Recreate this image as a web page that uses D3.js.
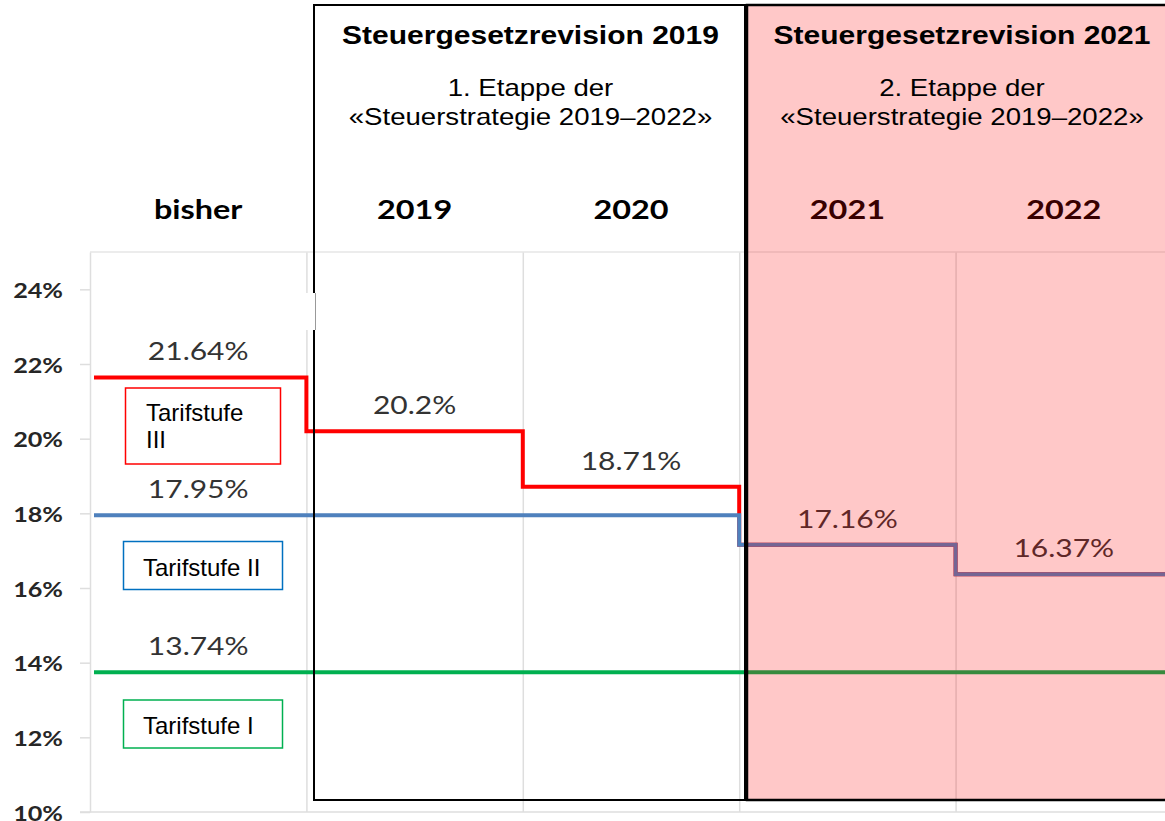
<!DOCTYPE html>
<html>
<head>
<meta charset="utf-8">
<script src="https://cdn.jsdelivr.net/npm/d3@7"></script>
<style>
  body { margin: 0; background: #fff; }
</style>
</head>
<body>
<div id="chart"></div>
<script>
const categories = ["bisher", "2019", "2020", "2021", "2022"];
const stufe1 = [13.74, 13.74, 13.74, 13.74, 13.74];
const stufe2 = [17.95, 17.95, 17.95, 17.16, 16.37];
const stufe3 = [21.64, 20.2, 18.71, 17.16, 16.37];
// indices of the values that get a label
const labels1 = [0];
const labels2 = [0, 3, 4];
const labels3 = [0, 1, 2];
const yTicks = [10, 12, 14, 16, 18, 20, 22, 24];
const seriesNames = ["Tarifstufe I", "Tarifstufe II", "Tarifstufe III"];
const revisions = ["Steuergesetzrevision 2019", "Steuergesetzrevision 2021"];
const etappen = ["1. Etappe der", "2. Etappe der"];
const strategie = "«Steuerstrategie 2019–2022»";

const width = 1165, height = 821;
const SX = 1.2; // the source picture is stretched sideways
const calibri = "Lato, 'Open Sans', sans-serif";
const arial = "'Liberation Sans', Arial, sans-serif";

const svg = d3.select("#chart").append("svg")
    .attr("width", width)
    .attr("height", height);

const x = d3.scaleBand().domain(categories).range([90, 1172]).padding(0);
const y = d3.scaleLinear().domain([10, 25]).range([812, 252]);
const bw = x.bandwidth();

// grid
const grid = svg.append("g").attr("id", "grid");
grid.selectAll("line.v").data(categories.slice(1))
    .join("line")
    .attr("class", "v")
    .attr("x1", d => x(d) + 0.5).attr("x2", d => x(d) + 0.5)
    .attr("y1", y(25)).attr("y2", y(10))
    .attr("stroke", "#dedede").attr("stroke-width", 1.5);
grid.append("line")
    .attr("x1", 90).attr("x2", 1172)
    .attr("y1", y(25)).attr("y2", y(25))
    .attr("stroke", "#e6e6e6").attr("stroke-width", 1.5);
grid.append("line")
    .attr("x1", 80).attr("x2", 1172)
    .attr("y1", y(10)).attr("y2", y(10))
    .attr("stroke", "#dedede").attr("stroke-width", 1.5);

// y axis
const yAxis = d3.axisLeft(y).tickValues(yTicks).tickSize(10).tickSizeOuter(0)
    .tickFormat(d => d + "%");
const yAxisG = svg.append("g")
    .attr("class", "y axis")
    .attr("transform", "translate(90,0)")
    .call(yAxis);
yAxisG.select(".domain").attr("stroke", "#dedede").attr("stroke-width", 1.5);
yAxisG.selectAll(".tick line").attr("stroke", "#dedede").attr("stroke-width", 1.5);
yAxisG.selectAll(".tick text")
    .attr("x", -27 / SX)
    .attr("dy", null)
    .attr("y", 8)
    .attr("transform", `scale(${SX},1)`)
    .attr("font-family", calibri)
    .attr("font-weight", "bold")
    .attr("font-size", 21)
    .attr("fill", "#262626");

// step lines
const steps = vals => {
    const pts = [];
    vals.forEach((v, i) => {
        pts.push([x(categories[i]) + (i === 0 ? 4 : 0), y(v)]);
        pts.push([x(categories[i]) + bw, y(v)]);
    });
    return pts;
};
const line = d3.line();
const series = [
    { name: seriesNames[0], vals: stufe1, labels: labels1, color: "#00b050", box: "#00b050" },
    { name: seriesNames[2], vals: stufe3, labels: labels3, color: "#ff0000", box: "#ff0000" },
    { name: seriesNames[1], vals: stufe2, labels: labels2, color: "#4f81bd", box: "#0070c0" }
];
const chartArea = svg.append("g").attr("id", "lines");
chartArea.selectAll("path.step").data(series)
    .join("path")
    .attr("class", "step")
    .attr("d", d => line(steps(d.vals)))
    .attr("fill", "none")
    .attr("stroke", d => d.color)
    .attr("stroke-width", 4)
    .attr("stroke-linejoin", "miter");

// value labels
const valueLabels = series.flatMap(s => s.labels.map(i => ({ cat: categories[i], v: s.vals[i] })));
chartArea.selectAll("text.label").data(valueLabels)
    .join("text")
    .attr("class", "label")
    .attr("transform", d => `translate(${x(d.cat) + bw / 2},${y(d.v) - 17}) scale(${SX},1)`)
    .attr("text-anchor", "middle")
    .attr("font-family", calibri)
    .attr("font-size", 25)
    .attr("fill", "#333")
    .text(d => d.v + "%");

// legend boxes
const legend = svg.append("g").attr("id", "legend");
const legendBoxes = [
    { s: series[1], x: 125.5, y: 388, w: 155, h: 76, lines: ["Tarifstufe", "III"], tx: 146 },
    { s: series[2], x: 123.5, y: 541.5, w: 159, h: 48, lines: ["Tarifstufe II"], tx: 143 },
    { s: series[0], x: 123.5, y: 700, w: 159, h: 48, lines: ["Tarifstufe I"], tx: 143 }
];
legendBoxes.forEach(b => {
    legend.append("rect")
        .attr("x", b.x).attr("y", b.y).attr("width", b.w).attr("height", b.h)
        .attr("fill", "none").attr("stroke", b.s.box).attr("stroke-width", 1.5);
    const first = b.lines.length > 1 ? b.y + 33 : b.y + 34;
    b.lines.forEach((t, i) => {
        legend.append("text")
            .attr("x", b.tx).attr("y", first + i * 27)
            .attr("font-family", arial).attr("font-size", 24)
            .attr("fill", "#000")
            .text(t);
    });
});

// category labels
svg.append("g").selectAll("text").data(categories)
    .join("text")
    .attr("transform", d => `translate(${x(d) + bw / 2},219) scale(${SX},1)`)
    .attr("text-anchor", "middle")
    .attr("font-family", calibri)
    .attr("font-weight", "bold")
    .attr("font-size", 27)
    .attr("fill", "#000")
    .text(d => d);

// revision boxes
svg.append("rect")
    .attr("x", 314).attr("y", 5).attr("width", 431).attr("height", 795)
    .attr("fill", "none").attr("stroke", "#000").attr("stroke-width", 2);
// patch over the frame, as in the source
svg.append("rect")
    .attr("x", 302).attr("y", 293).attr("width", 14).attr("height", 37)
    .attr("fill", "#fff");
svg.append("line")
    .attr("x1", 315.5).attr("x2", 315.5).attr("y1", 293).attr("y2", 330)
    .attr("stroke", "#999").attr("stroke-width", 1);
svg.append("rect")
    .attr("x", 747).attr("y", 5).attr("width", 440).attr("height", 795)
    .attr("fill", "#ff0000").attr("fill-opacity", 0.215)
    .attr("stroke", "#000").attr("stroke-width", 2.5);

// headers
const centers = [530.5, 962];
const header = svg.append("g").attr("id", "header");
revisions.forEach((t, i) => {
    header.append("text")
        .attr("transform", `translate(${centers[i]},44) scale(${SX},1)`)
        .attr("text-anchor", "middle")
        .attr("font-family", arial).attr("font-weight", "bold").attr("font-size", 25)
        .attr("fill", "#000")
        .text(t);
    header.append("text")
        .attr("transform", `translate(${centers[i]},96) scale(${SX},1)`)
        .attr("text-anchor", "middle")
        .attr("font-family", arial).attr("font-size", 23)
        .attr("fill", "#000")
        .text(etappen[i]);
    header.append("text")
        .attr("transform", `translate(${centers[i]},125) scale(${SX},1)`)
        .attr("text-anchor", "middle")
        .attr("font-family", arial).attr("font-size", 23)
        .attr("fill", "#000")
        .text(strategie);
});
</script>
</body>
</html>
